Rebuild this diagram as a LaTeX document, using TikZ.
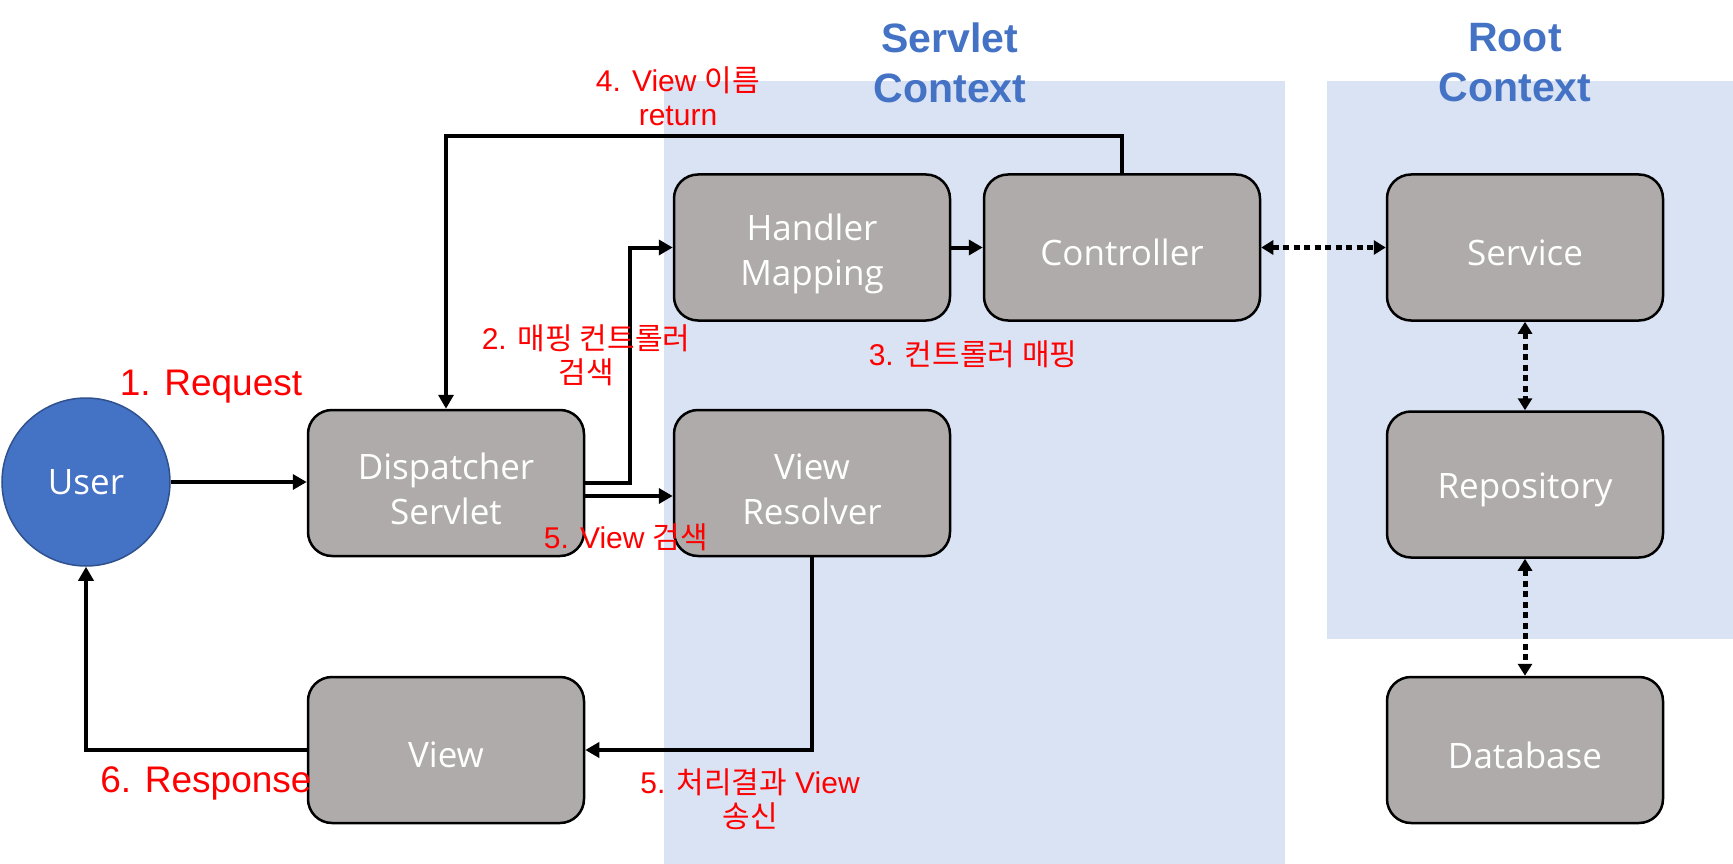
\documentclass[tikz,border=0pt]{standalone}
\usepackage{fontspec}
\setmainfont{Liberation Sans}
\newfontfamily\kr{Noto Sans CJK KR}
\newfontfamily\boxfont{Open Sans}
\usetikzlibrary{arrows.meta}
\newcommand{\hng}[1]{{\kr #1}}
\definecolor{bgblue}{HTML}{DAE3F3}
\definecolor{boxgray}{HTML}{AFABAB}
\definecolor{userblue}{HTML}{4472C4}
\definecolor{userborder}{HTML}{2F528F}
\definecolor{labred}{HTML}{FF0000}
\begin{document}
\begin{tikzpicture}[x=1pt,y=-1pt,
  box/.style={draw=black, line width=2.5pt, fill=boxgray, rounded corners=24pt,
    minimum width=276pt, minimum height=146pt, inner sep=0pt},
  boxtxt/.style={text=white, font=\boxfont\fontsize{35}{45}\selectfont,
    align=center, inner sep=0pt},
  conn/.style={line width=4pt, -{Triangle[length=14pt,width=15pt]}},
  dots/.style={line width=5pt, dash pattern=on 6pt off 4.5pt,
    {Triangle[length=12pt,width=14pt]}-{Triangle[length=12pt,width=14pt]}},
  heading/.style={text=userblue, align=center, inner sep=0pt,
    font=\bfseries\fontsize{41}{50}\selectfont},
  lab/.style={text=labred, align=center, inner sep=0pt,
    font=\fontsize{30}{34}\selectfont},
  biglab/.style={text=labred, align=center, inner sep=0pt,
    font=\fontsize{37}{44}\selectfont}
]
\useasboundingbox (0,0) rectangle (1733,864);
\fill[white] (0,0) rectangle (1733,864);
% context backgrounds
\fill[bgblue] (664,81) rectangle (1285,864);
\fill[bgblue] (1327,81) rectangle (1733,639);

% headings
\node[heading] (sch) at (950,63) {Servlet\\Context};
\node[heading] (rch) at (1515,63) {Root\\Context};

% boxes
\node[box] (hm) at (812,247.5) {};
\node[box] (ctrl) at (1122,247.5) {};
\node[box] (svc) at (1525,247.5) {};
\node[box] (disp) at (446,483) {};
\node[box] (vr) at (812,483) {};
\node[box] (repo) at (1525,484.5) {};
\node[box] (view) at (446,750) {};
\node[box] (db) at (1525,750) {};
\node[boxtxt] (hmt) at ([yshift=-6pt]hm.center) {Handler\\Mapping};
\node[boxtxt] (ctrlt) at ([yshift=-5pt]ctrl.center) {Controller};
\node[boxtxt] (svct) at ([yshift=-5pt]svc.center) {Service};
\node[boxtxt] (dispt) at ([yshift=-6pt]disp.center) {Dispatcher\\Servlet};
\node[boxtxt] (vrt) at ([yshift=-6pt]vr.center) {View\\Resolver};
\node[boxtxt] (repot) at ([yshift=-5pt]repo.center) {Repository};
\node[boxtxt] (viewt) at ([yshift=-5pt]view.center) {View};
\node[boxtxt] (dbt) at ([yshift=-5pt]db.center) {Database};
\node[circle, fill=userblue, draw=userborder, line width=1.5pt, minimum size=168pt,
  inner sep=0pt, text=white, font=\boxfont\fontsize{35}{40}\selectfont] (user) at (86,482) {User};

% connectors
\draw[conn] (user.east) -- (user.east -| disp.west);
\draw[conn] (disp.east) -- ++(45,0) |- (hm.west);
\draw[conn] ([yshift=-13pt]disp.east) -- ([yshift=-13pt]disp.east -| vr.west);
\draw[conn] (hm) -- (ctrl);
\draw[conn] (ctrl.north) -- ++(0,-37) -| (disp.north);
\draw[conn] (vr.south) |- (view.east);
\draw[conn] (view.west) -| (user.south);
\draw[dots] (ctrl) -- (svc);
\draw[dots] (svc) -- (repo);
\draw[dots] (repo) -- (db);

% labels
\node[biglab] (l1) at (211,387) {1. Request};
\node[biglab] (l6) at (206,783) {6. Response};
\node[lab] (l4) at (678,96) {4. View \hng{이름}\\return};
\node[lab] (l2) at (586,355) {2. \hng{매핑 컨트롤러}\\\hng{검색}};
\node[lab] (l3) at (973,354) {3. \hng{컨트롤러 매핑}};
\node[lab] (l5a) at (626,537) {5. View \hng{검색}};
\node[lab] (l5b) at (750,799) {5. \hng{처리결과} View\\\hng{송신}};
\end{tikzpicture}
\end{document}
